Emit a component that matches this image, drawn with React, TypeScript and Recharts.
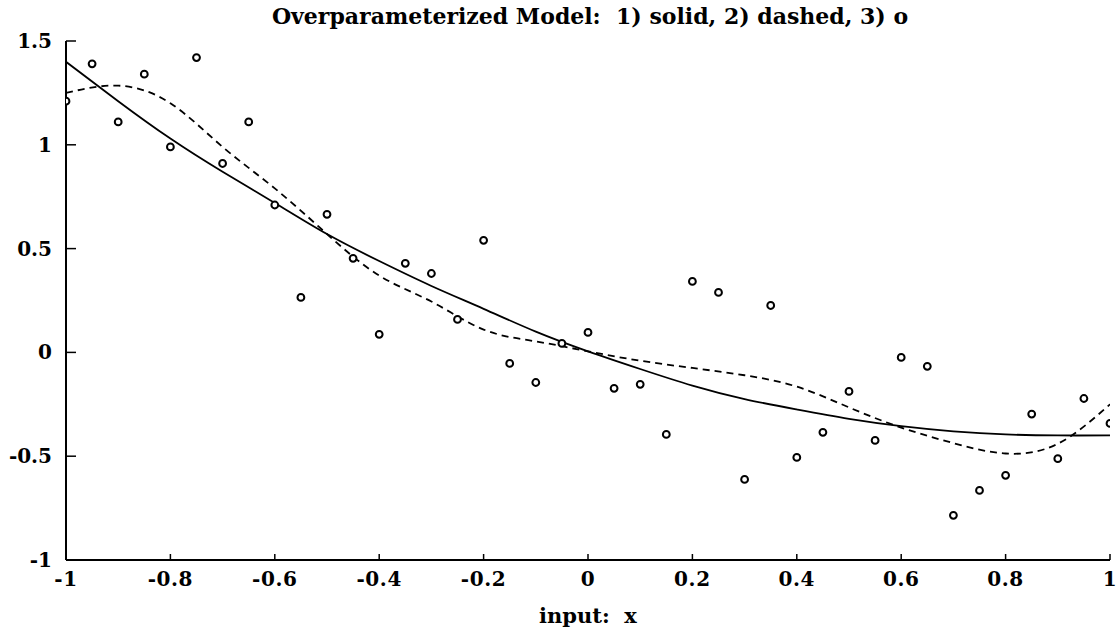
import { ComposedChart, Line, Scatter, XAxis, YAxis } from "recharts";

const fitX = [-1, -0.9, -0.8, -0.7, -0.6, -0.5, -0.4, -0.3, -0.2, -0.1, 0, 0.1, 0.2, 0.3, 0.4, 0.5, 0.6, 0.7, 0.8, 0.9, 1];
const solidFit = [1.4, 1.21, 1.03, 0.87, 0.72, 0.57, 0.44, 0.32, 0.21, 0.1, 0.005, -0.08, -0.16, -0.225, -0.275, -0.32, -0.355, -0.38, -0.395, -0.4, -0.4];
const dashedFit = [1.25, 1.285, 1.2, 0.99, 0.79, 0.57, 0.37, 0.245, 0.11, 0.053, 0.005, -0.04, -0.075, -0.11, -0.165, -0.265, -0.362, -0.437, -0.487, -0.44, -0.25];

const sampleX = [
  -1, -0.95, -0.9, -0.85, -0.8, -0.75, -0.7, -0.65, -0.6, -0.55, -0.5, -0.45, -0.4, -0.35, -0.3, -0.25, -0.2, -0.15, -0.1, -0.05,
  0, 0.05, 0.1, 0.15, 0.2, 0.25, 0.3, 0.35, 0.4, 0.45, 0.5, 0.55, 0.6, 0.65, 0.7, 0.75, 0.8, 0.85, 0.9, 0.95, 1,
];
const sampleY = [
  1.21, 1.39, 1.11, 1.34, 0.99, 1.42, 0.91, 1.11, 0.71, 0.265, 0.665, 0.453, 0.087, 0.429, 0.38, 0.159, 0.54, -0.053, -0.145, 0.043,
  0.096, -0.173, -0.154, -0.395, 0.342, 0.289, -0.612, 0.226, -0.506, -0.385, -0.188, -0.424, -0.024, -0.067, -0.785, -0.665, -0.592,
  -0.297, -0.512, -0.222, -0.342,
];

const xTicks = [-1, -0.8, -0.6, -0.4, -0.2, 0, 0.2, 0.4, 0.6, 0.8, 1];
const yTicks = [-1, -0.5, 0, 0.5, 1, 1.5];

const solidData = fitX.map((x, i) => ({ x, y: solidFit[i] }));
const dashedData = fitX.map((x, i) => ({ x, y: dashedFit[i] }));
const samples = sampleX.map((x, i) => ({ x, y: sampleY[i] }));

const font = "'DejaVu Serif', serif";
const labelStyle = { fill: "#000", fontFamily: font, fontWeight: 700, fontSize: 20 };

// ticks point into the plot box, labels sit outside
const LeftTick = (p: any) => {
  const ax = p.x + 14;
  return (
    <g>
      <line x1={ax} x2={ax + 10} y1={p.y} y2={p.y} stroke="#000" strokeWidth={1.5} />
      <text x={p.x} y={p.y} dy="0.35em" textAnchor="end" {...labelStyle}>
        {p.payload.value}
      </text>
    </g>
  );
};

const BottomTick = (p: any) => {
  const ay = p.y - 12;
  return (
    <g>
      <line x1={p.x} x2={p.x} y1={ay} y2={ay - 6} stroke="#000" strokeWidth={1.5} />
      <text x={p.x} y={p.y} dy="0.72em" textAnchor="middle" letterSpacing={0.6} {...labelStyle}>
        {p.payload.value}
      </text>
    </g>
  );
};

const TopTick = (p: any) => <line x1={p.x} x2={p.x} y1={p.y} y2={p.y + 4} stroke="#000" strokeWidth={1.5} />;
const RightTick = (p: any) => <line x1={p.x} x2={p.x - 9} y1={p.y} y2={p.y} stroke="#000" strokeWidth={1.5} />;

const Ring = (props: any) => (
  <circle cx={props.cx} cy={props.cy} r={3.4} fill="#fff" stroke="#000" strokeWidth={2} />
);

export default function App() {
  return (
    <div style={{ position: "absolute", left: 0, top: 0, width: 1116, height: 632, background: "#fff" }}>
      <div
        style={{
          position: "absolute",
          left: 0,
          top: 4,
          width: 1180,
          textAlign: "center",
          fontFamily: font,
          fontWeight: 700,
          fontSize: 22,
          lineHeight: "24px",
          whiteSpace: "pre",
        }}
      >
        {"Overparameterized Model:  1) solid, 2) dashed, 3) o"}
      </div>
      <ComposedChart width={1116} height={632} margin={{ top: 41, right: 6, left: 0, bottom: 0 }}>
        <XAxis
          xAxisId="b"
          dataKey="x"
          type="number"
          domain={[-1, 1]}
          ticks={xTicks}
          height={72}
          tickSize={0}
          tickMargin={12}
          tickLine={false}
          tick={BottomTick}
          axisLine={{ stroke: "#000", strokeWidth: 2 }}
          interval={0}
          allowDataOverflow
          label={{
            value: "input:\u00a0\u00a0x",
            position: "insideBottom",
            offset: 9,
            fill: "#000",
            fontFamily: font,
            fontWeight: 700,
            fontSize: 21,
          }}
        />
        <XAxis
          xAxisId="t"
          orientation="top"
          dataKey="x"
          type="number"
          domain={[-1, 1]}
          ticks={xTicks}
          height={0}
          tickSize={0}
          tickMargin={0}
          tickLine={false}
          tick={TopTick}
          axisLine={{ stroke: "#000", strokeWidth: 2 }}
          interval={0}
          allowDataOverflow
        />
        <YAxis
          yAxisId="l"
          type="number"
          domain={[-1, 1.5]}
          ticks={yTicks}
          width={66}
          tickSize={0}
          tickMargin={14}
          tickLine={false}
          tick={LeftTick}
          axisLine={{ stroke: "#000", strokeWidth: 2 }}
          interval={0}
          allowDataOverflow
        />
        <YAxis
          yAxisId="r"
          orientation="right"
          type="number"
          domain={[-1, 1.5]}
          ticks={yTicks}
          width={0}
          tickSize={0}
          tickMargin={0}
          tickLine={false}
          tick={RightTick}
          axisLine={{ stroke: "#000", strokeWidth: 2 }}
          interval={0}
          allowDataOverflow
        />
        <Line
          xAxisId="b"
          yAxisId="l"
          data={solidData}
          dataKey="y"
          type="natural"
          stroke="#000"
          strokeWidth={1.8}
          dot={false}
          activeDot={false}
          isAnimationActive={false}
        />
        <Line
          xAxisId="b"
          yAxisId="l"
          data={dashedData}
          dataKey="y"
          type="natural"
          stroke="#000"
          strokeWidth={1.8}
          strokeDasharray="7 5"
          dot={false}
          activeDot={false}
          isAnimationActive={false}
        />
        <Scatter
          xAxisId="b"
          yAxisId="l"
          data={samples}
          dataKey="y"
          shape={Ring}
          isAnimationActive={false}
        />
      </ComposedChart>
    </div>
  );
}
